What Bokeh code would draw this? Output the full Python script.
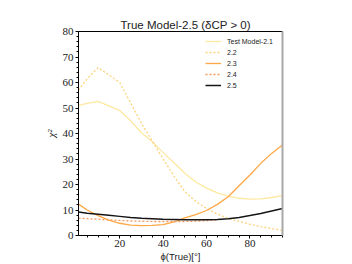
from bokeh.plotting import figure
from bokeh.models import (Range1d, SingleIntervalTicker, FixedTicker, LinearAxis,
                          Legend, LegendItem, Title)
from bokeh.embed import file_html
from bokeh.resources import INLINE

# ---- data ----
phi = [1, 5, 10, 15, 20, 25, 30, 35, 40, 45, 50, 55, 60, 65, 70, 75, 80, 85, 90, 95]
chi_21 = [51.0, 51.8, 52.6, 50.8, 49.0, 45.0, 40.3, 36.8, 32.5, 28.5, 24.4, 21.0, 18.6,
          16.7, 15.4, 14.6, 14.3, 14.4, 14.9, 15.6]
chi_22 = [57.0, 61.5, 65.8, 63.0, 60.0, 52.0, 44.0, 37.0, 30.0, 23.3, 17.2, 13.4, 10.6,
          8.4, 6.7, 5.5, 4.4, 3.5, 2.7, 2.0]
chi_23 = [12.3, 10.0, 7.8, 6.0, 4.8, 4.1, 3.9, 4.0, 4.3, 5.3, 6.9, 8.2, 9.8,
          12.2, 15.2, 19.5, 23.7, 28.3, 32.2, 35.5]
phi_24 = [1, 5, 10, 15, 20, 25, 30, 35, 40, 45, 50, 55, 60, 65]
chi_24 = [6.8, 6.6, 6.4, 6.1, 5.9, 5.7, 5.6, 5.5, 5.5, 5.5, 5.5, 5.6, 5.8, 6.1]
chi_25 = [9.2, 8.7, 8.3, 7.9, 7.5, 7.1, 6.8, 6.6, 6.4, 6.3, 6.2, 6.2, 6.2,
          6.3, 6.6, 7.1, 7.8, 8.6, 9.6, 10.6]

labels = ["Test Model-2.1", "2.2", "2.3", "2.4", "2.5"]
x_major = [20, 40, 60, 80]
x_minor = [5, 10, 15, 25, 30, 35, 45, 50, 55, 65, 70, 75, 85, 90, 95]
title_text = "True Model-2.5 (δCP > 0)"
x_label = "ϕ(True)[°]"
y_label = "χ²"

SERIF = "Liberation Serif"
SANS = "Liberation Sans"

p = figure(width=352, height=264, output_backend="svg", toolbar_location=None,
           x_range=Range1d(1, 95), y_range=Range1d(0, 80),
           min_border_left=78, min_border_right=70, min_border_top=31,
           min_border_bottom=29)
p.title = Title(text=title_text, align="left", text_font=SANS,
                text_font_size="11.5px", text_font_style="normal",
                text_color="#222222", standoff=2, offset=42)
p.grid.visible = False
p.outline_line_color = None
p.background_fill_color = "white"
p.border_fill_color = "white"

# axes
p.xaxis.ticker = FixedTicker(ticks=x_major, minor_ticks=x_minor)
p.yaxis.ticker = SingleIntervalTicker(interval=10, num_minor_ticks=5)
for ax in (p.xaxis[0], p.yaxis[0]):
    ax.axis_line_color = "black"
    ax.major_tick_out = 3
    ax.major_tick_in = 0
    ax.minor_tick_out = 2
    ax.minor_tick_in = 0
    ax.major_tick_line_color = "black"
    ax.minor_tick_line_color = "black"
    ax.major_label_text_font = SERIF
    ax.major_label_text_font_size = "11px"
    ax.major_label_text_color = "#222222"
p.xaxis.major_label_standoff = 1
p.yaxis.major_label_standoff = 2

p.xaxis.axis_label = x_label
p.xaxis.axis_label_text_font = SANS
p.xaxis.axis_label_text_font_style = "normal"
p.xaxis.axis_label_text_font_size = "9.5px"
p.xaxis.axis_label_text_color = "#222222"
p.xaxis.axis_label_standoff = 1

p.yaxis.axis_label = y_label
p.yaxis.axis_label_text_font = SERIF
p.yaxis.axis_label_text_font_style = "italic"
p.yaxis.axis_label_text_font_size = "11px"
p.yaxis.axis_label_text_color = "#222222"
p.yaxis.axis_label_standoff = 3

top_ax = LinearAxis(ticker=FixedTicker(ticks=[]), axis_line_color="black",
                    major_tick_line_color=None, minor_tick_line_color=None,
                    major_tick_out=0, minor_tick_out=0, major_label_standoff=0,
                    major_label_text_font_size="0px")
right_ax = LinearAxis(ticker=FixedTicker(ticks=[]), axis_line_color="#a8a8a8",
                      axis_line_width=2, major_tick_line_color=None,
                      minor_tick_line_color=None, major_tick_out=0, minor_tick_out=0,
                      major_label_standoff=0, major_label_text_font_size="0px")
p.add_layout(top_ax, "above")
p.add_layout(right_ax, "right")

# lines
lw = 1.3
r1 = p.line(phi, chi_21, line_color="#fde8a2", line_width=lw)
r2 = p.line(phi, chi_22, line_color="#fdd27c", line_width=lw, line_dash="2 2")
r3 = p.line(phi, chi_23, line_color="#fda845", line_width=lw)
r4 = p.line(phi_24, chi_24, line_color="#f9995a", line_width=lw, line_dash="2 2")
r5 = p.line(phi, chi_25, line_color="#151515", line_width=1.5)

legend = Legend(items=[LegendItem(label=l, renderers=[r])
                       for l, r in zip(labels, [r1, r2, r3, r4, r5])],
                location=(127, 145), border_line_color=None,
                background_fill_alpha=0, padding=0, margin=0, spacing=1,
                glyph_height=10, glyph_width=16, label_height=10,
                label_standoff=6, label_text_font=SANS,
                label_text_font_size="7px", label_text_color="#222222")
p.add_layout(legend)

open("out.html", "w").write(file_html(p, INLINE))
